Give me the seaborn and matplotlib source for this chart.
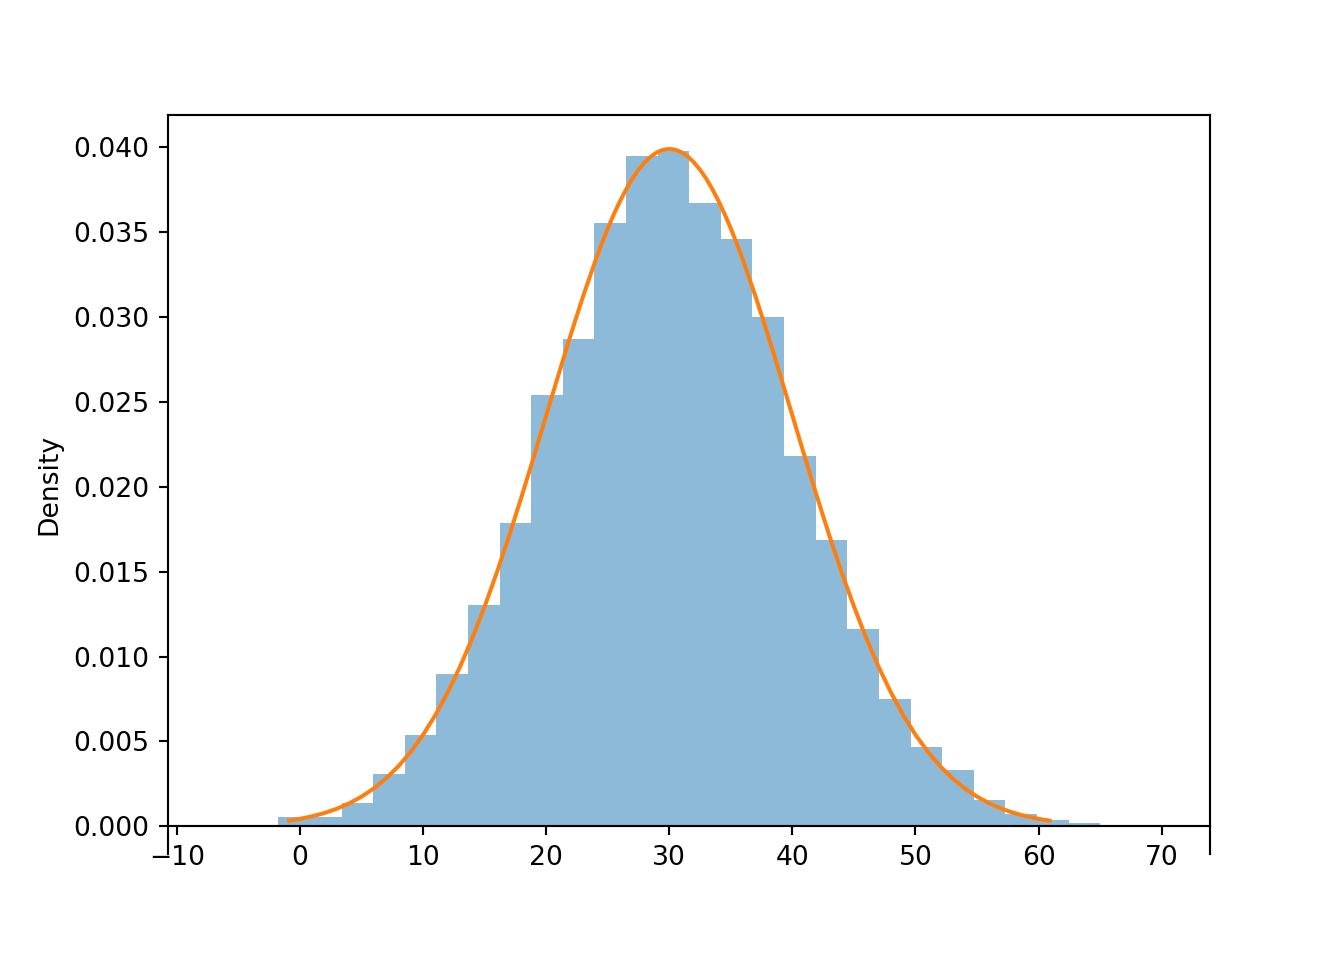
import numpy as np
import matplotlib
matplotlib.use('Agg')
import matplotlib.pyplot as plt
import seaborn as sns

# Histogram bin edges and bar heights (density)
bin_edges = [-6.90, -4.33, -1.77, 0.80, 3.37, 5.94, 8.51, 11.08, 13.64, 16.21,
             18.78, 21.35, 23.92, 26.49, 29.06, 31.62, 34.19, 36.76, 39.33, 41.90,
             44.47, 47.03, 49.60, 52.17, 54.74, 57.31, 59.88, 62.45, 65.01]
bin_density = [0.00008, 0.00008, 0.00053, 0.00055, 0.00140, 0.00306, 0.00541, 0.00900,
               0.01306, 0.01788, 0.02541, 0.02871, 0.03553, 0.03947, 0.03976, 0.03672,
               0.03461, 0.03000, 0.02182, 0.01688, 0.01165, 0.00753, 0.00466, 0.00334,
               0.00153, 0.00071, 0.00035, 0.00022]

# Orange curve points
curve_x = [-0.9, 0, 1, 2, 3, 4, 5, 6, 7, 8, 9, 10, 11, 12, 13, 14, 15, 16, 17, 18, 19,
           20, 21, 22, 23, 24, 24.5, 25, 25.5, 26, 26.5, 27, 27.5, 28, 28.5, 29, 29.5,
           30, 30.5, 31, 31.5, 32, 32.5, 33, 33.5, 34, 34.5, 35, 35.5, 36, 37, 38,
           39, 40, 41, 42, 43, 44, 45, 46, 47, 48, 49, 50, 51, 52, 53, 54, 55, 56, 57,
           58, 59, 60, 60.9]
curve_y = [0.000337, 0.000443, 0.000595, 0.000792, 0.001042, 0.001358, 0.001753, 0.002239,
           0.002833, 0.003547, 0.004398, 0.005399, 0.006562, 0.007895, 0.009405, 0.011092,
           0.012952, 0.014973, 0.017137, 0.019419, 0.021785, 0.024197, 0.026609, 0.028969,
           0.031225, 0.033322, 0.034294, 0.035207, 0.036053, 0.036827, 0.037524, 0.038139,
           0.038667, 0.039104, 0.039448, 0.039695, 0.039844, 0.039894, 0.039844, 0.039695,
           0.039448, 0.039104, 0.038667, 0.038139, 0.037524, 0.036827, 0.036053, 0.035207,
           0.034294, 0.033322, 0.031225, 0.028969,
           0.026609, 0.024197, 0.021785, 0.019419, 0.017137, 0.014973, 0.012952, 0.011092,
           0.009405, 0.007895, 0.006562, 0.005399, 0.004398, 0.003547, 0.002833, 0.002239,
           0.001753, 0.001358, 0.001042, 0.000792, 0.000595, 0.000443, 0.000337]

edges = np.array(bin_edges)
centers = (edges[:-1] + edges[1:]) / 2

fig, ax = plt.subplots(figsize=(7, 5))

sns.histplot(x=centers, weights=bin_density, bins=bin_edges, stat='count',
             color='C0', alpha=0.5, linewidth=0, ax=ax)
sns.lineplot(x=curve_x, y=curve_y, color='C1', linewidth=1.5, ax=ax)

ax.set_xlim(-10.73, 73.9)
ax.set_ylim(-0.00165, 0.04188)
ax.spines['bottom'].set_position(('data', 0))
ax.set_ylabel('Density')
ax.set_xlabel('')

fig.savefig('out.png', dpi=192)
